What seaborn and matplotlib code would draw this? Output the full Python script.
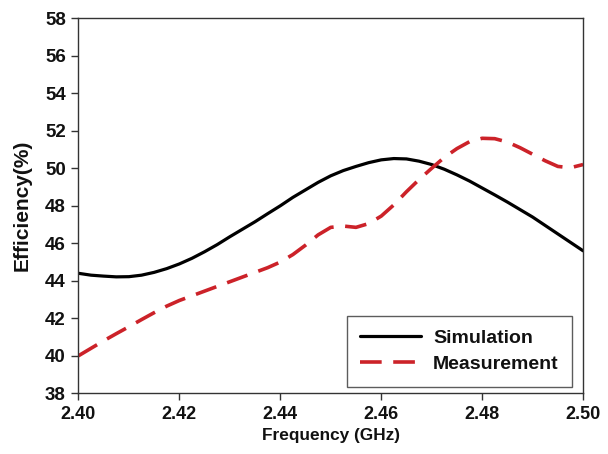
import matplotlib
matplotlib.use("Agg")
import matplotlib.pyplot as plt
import seaborn as sns
import pandas as pd

freq = [2.4000, 2.4025, 2.4050, 2.4075, 2.4100, 2.4125, 2.4150, 2.4175, 2.4200, 2.4225,
        2.4250, 2.4275, 2.4300, 2.4325, 2.4350, 2.4375, 2.4400, 2.4425, 2.4450, 2.4475,
        2.4500, 2.4525, 2.4550, 2.4575, 2.4600, 2.4625, 2.4650, 2.4675, 2.4700, 2.4725,
        2.4750, 2.4775, 2.4800, 2.4825, 2.4850, 2.4875, 2.4900, 2.4925, 2.4950, 2.4975,
        2.5000]
simulation = [44.40, 44.30, 44.25, 44.21, 44.22, 44.30, 44.45, 44.65, 44.90, 45.20,
              45.55, 45.93, 46.35, 46.75, 47.15, 47.58, 48.00, 48.45, 48.85, 49.25,
              49.60, 49.88, 50.10, 50.30, 50.45, 50.52, 50.50, 50.38, 50.20, 49.95,
              49.65, 49.32, 48.95, 48.58, 48.20, 47.80, 47.40, 46.95, 46.50, 46.05,
              45.60]
measurement = [40.00, 40.40, 40.80, 41.18, 41.55, 41.93, 42.30, 42.65, 42.95, 43.20,
               43.45, 43.70, 43.95, 44.20, 44.45, 44.70, 45.00, 45.40, 45.90, 46.45,
               46.85, 46.92, 46.85, 47.05, 47.45, 48.05, 48.75, 49.40, 50.00, 50.58,
               51.05, 51.42, 51.60, 51.58, 51.40, 51.10, 50.75, 50.40, 50.10, 50.03,
               50.20]
x_ticks = [2.40, 2.42, 2.44, 2.46, 2.48, 2.50]
y_ticks = [38, 40, 42, 44, 46, 48, 50, 52, 54, 56, 58]

sns.set_style("white")
plt.rcParams['font.family'] = ['Liberation Sans', 'DejaVu Sans']

df_sim = pd.DataFrame({"f": freq, "e": simulation})
df_mea = pd.DataFrame({"f": freq, "e": measurement})

fig = plt.figure(figsize=(6.08, 4.54), dpi=100)
ax = fig.add_axes([0.129, 0.1337, 0.830, 0.826])

sns.lineplot(data=df_sim, x="f", y="e", ax=ax, color="black", linewidth=2.3,
             label="Simulation")
sns.lineplot(data=df_mea, x="f", y="e", ax=ax, color="#cc2229", linewidth=2.6,
             label="Measurement")
ax.lines[1].set_dashes((6, 3.2))

ax.set_xlim(2.40, 2.50)
ax.set_ylim(38, 58)
ax.set_xticks(x_ticks)
ax.set_xticklabels([f"{t:.2f}" for t in x_ticks])
ax.set_yticks(y_ticks)
ax.set_yticklabels([str(t) for t in y_ticks])

for s in ax.spines.values():
    s.set_color("#333333")
    s.set_linewidth(1.0)

ax.tick_params(axis="both", which="major", direction="out", length=5, width=1,
               color="#333333", labelcolor="#111111", pad=4,
               bottom=True, left=True, top=False, right=False)
ax.tick_params(axis="x", labelsize=13)
ax.tick_params(axis="y", labelsize=13.5)
for lab in ax.get_xticklabels() + ax.get_yticklabels():
    lab.set_fontweight("bold")

ax.set_xlabel("Frequency (GHz)", fontsize=12.4, fontweight="bold", labelpad=4,
              color="#111111")
ax.set_ylabel("Efficiency(%)", fontsize=15, fontweight="bold", labelpad=10,
              color="#111111")

leg = ax.legend(loc="lower right", bbox_to_anchor=(0.979, 0.0176), borderaxespad=0,
                frameon=True, fancybox=False, edgecolor="#333333",
                prop={"weight": "bold", "size": 14}, handlelength=3.1,
                handletextpad=0.65, borderpad=0.7, labelspacing=0.45)
leg.get_frame().set_linewidth(1.0)
for t in leg.get_texts():
    t.set_color("#111111")

fig.savefig("out.png", dpi=100)
